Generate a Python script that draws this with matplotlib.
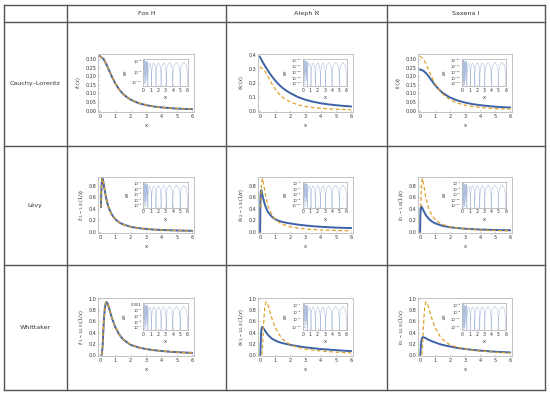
import numpy as np
import matplotlib
matplotlib.use("Agg")
import matplotlib.pyplot as plt
from matplotlib.lines import Line2D

# ---------------- data ----------------
COLS = ["Fox H", "Aleph \u2135", "Saxena I"]
ROWS = ["Cauchy\u2013Lorentz", "L\u00e9vy", "Whittaker"]

# Row 1: Cauchy-Lorentz
X1 = [0, 0.25, 0.5, 0.75, 1, 1.25, 1.5, 1.75, 2, 2.5, 3, 3.5, 4, 4.5, 5, 5.5, 6]
CAUCHY = [0.318, 0.300, 0.255, 0.204, 0.159, 0.124, 0.098, 0.079, 0.064, 0.044,
          0.032, 0.024, 0.019, 0.015, 0.012, 0.010, 0.0086]
ALEPH_C = [0.39, 0.34, 0.295, 0.255, 0.22, 0.19, 0.165, 0.145, 0.128, 0.10,
           0.08, 0.066, 0.055, 0.047, 0.041, 0.036, 0.032]
SAXENA_C = [0.24, 0.232, 0.21, 0.18, 0.15, 0.125, 0.105, 0.09, 0.077, 0.059,
            0.047, 0.038, 0.032, 0.027, 0.023, 0.02, 0.018]

# Row 2: Levy
X2 = [0.07, 0.1, 0.13, 0.167, 0.2, 0.25, 0.3, 0.4, 0.5, 0.6, 0.8, 1.0, 1.25, 1.5,
      2, 2.5, 3, 3.5, 4, 4.5, 5, 5.5, 6]
LEVY = [0.428, 0.732, 0.880, 0.925, 0.904, 0.830, 0.746, 0.597, 0.484, 0.400, 0.288,
        0.220, 0.165, 0.130, 0.088, 0.065, 0.050, 0.040, 0.033, 0.028, 0.024, 0.021, 0.018]
XB2 = [0.02, 0.04, 0.06, 0.1, 0.15, 0.2, 0.3, 0.4, 0.5, 0.6, 0.8, 1.0, 1.25, 1.5,
       2, 2.5, 3, 3.5, 4, 4.5, 5, 5.5, 6]
ALEPH_L = [0.0, 0.55, 0.69, 0.72, 0.66, 0.60, 0.50, 0.42, 0.36, 0.32, 0.26, 0.22,
           0.19, 0.17, 0.145, 0.125, 0.11, 0.097, 0.088, 0.08, 0.074, 0.069, 0.065]
SAXENA_L = [0.0, 0.3, 0.42, 0.44, 0.42, 0.39, 0.34, 0.29, 0.255, 0.225, 0.18, 0.15,
            0.125, 0.105, 0.08, 0.065, 0.054, 0.046, 0.04, 0.036, 0.032, 0.029, 0.027]

# Row 3: Whittaker
X3 = [0.12, 0.18, 0.22, 0.27, 0.32, 0.38, 0.43, 0.5, 0.6, 0.7, 0.8, 1.0, 1.25, 1.5,
      2, 2.5, 3, 3.5, 4, 4.5, 5, 5.5, 6]
WHITT = [0.0, 0.15, 0.4, 0.65, 0.83, 0.93, 0.95, 0.92, 0.84, 0.74, 0.65, 0.5, 0.37,
         0.28, 0.18, 0.135, 0.105, 0.085, 0.07, 0.058, 0.049, 0.042, 0.037]
XB3 = [0.04, 0.07, 0.1, 0.15, 0.2, 0.3, 0.4, 0.5, 0.6, 0.8, 1.0, 1.25, 1.5, 2, 2.5,
       3, 3.5, 4, 4.5, 5, 5.5, 6]
ALEPH_W = [0.0, 0.3, 0.45, 0.5, 0.49, 0.45, 0.41, 0.37, 0.34, 0.29, 0.26, 0.23, 0.21,
           0.18, 0.155, 0.135, 0.12, 0.105, 0.095, 0.085, 0.075, 0.068]
SAXENA_W = [0.0, 0.15, 0.25, 0.3, 0.32, 0.31, 0.30, 0.28, 0.27, 0.245, 0.225, 0.2,
            0.18, 0.15, 0.125, 0.105, 0.09, 0.077, 0.066, 0.057, 0.05, 0.044]

# Inset error curves: shared x grid and shape (fraction of the inset's log range)
EPS_X = [0, 0.04, 0.08, 0.12, 0.16, 0.2, 0.24, 0.28, 0.32, 0.36, 0.4, 0.44, 0.48, 0.52, 0.56,
         0.6, 0.62, 0.7, 0.85, 1.0, 1.08, 1.1, 1.12, 1.2, 1.4, 1.6, 1.68, 1.7,
         1.72, 1.82, 2.05, 2.28, 2.38, 2.4, 2.42, 2.52, 2.75, 2.98, 3.08, 3.1,
         3.12, 3.25, 3.55, 3.85, 3.98, 4.0, 4.02, 4.15, 4.5, 4.85, 4.98, 5.0,
         5.02, 5.15, 5.5, 5.85, 5.98, 6.0]
EPS_SHAPE = [0.95, 0.3, 0.9, 0.1, 0.97, 0.4, 0.85, 0.05, 0.92, 0.5, 0.88, 0.2, 0.9, 0.35, 0.93,
             -0.2, 0.45, 0.75, 0.85, 0.75, 0.45, -0.2, 0.45, 0.75, 0.86, 0.75, 0.45, -0.2,
             0.45, 0.75, 0.87, 0.75, 0.45, -0.2, 0.45, 0.75, 0.87, 0.75, 0.45, -0.2,
             0.45, 0.76, 0.88, 0.76, 0.45, -0.2, 0.45, 0.76, 0.88, 0.76, 0.45, -0.2,
             0.45, 0.76, 0.88, 0.76, 0.45, -0.2]
# inset decade tick exponents (top to bottom)
EPS_TICKS = [
    [[-8, -9, -10], [-10, -11, -12, -13, -14], [-10, -11, -12, -13, -14]],
    [[-4, -5, -6, -7, -8], [-6, -7, -8, -9, -10], [-7, -8, -9, -10, -11]],
    [[-3, -4, -5, -6, -7], [-7, -8, -9, -10], [-8, -9, -10, -11]],
]

YLABELS = [
    [r"$f_C(x)$", r"$\aleph_C(x)$", r"$I_C(x)$"],
    [r"$f_{(2,-1,0)}(1/x)$", r"$\aleph_{(2,-1,0)}(1/x)$", r"$I_{(2,-1,0)}(1/x)$"],
    [r"$f_{(3,-1/2,0)}(1/x)$", r"$\aleph_{(3,-1/2,0)}(1/x)$", r"$I_{(3,-1/2,0)}(1/x)$"],
]

SUP = str.maketrans("-0123456789", "\u207b\u2070\u00b9\u00b2\u00b3\u2074\u2075\u2076\u2077\u2078\u2079")

# ---------------- layout ----------------
W, H = 550, 397
fig = plt.figure(figsize=(W / 100, H / 100), dpi=100)
fig.patch.set_facecolor("white")

BLUE = "#3d62a6"
ORANGE = "#e0a02a"
EPSC = "#aebfdf"
FRAME = "#b8b8b8"
TXT = "#333333"

col_x = [3.5, 67, 226, 387, 545]
row_y = [5, 22, 146, 265, 390]
for xv in col_x:
    fig.add_artist(Line2D([xv / W, xv / W], [1 - row_y[0] / H, 1 - row_y[-1] / H],
                          color="#555555", lw=1.0, transform=fig.transFigure))
for yv in row_y:
    fig.add_artist(Line2D([col_x[0] / W, col_x[-1] / W], [1 - yv / H, 1 - yv / H],
                          color="#555555", lw=1.0, transform=fig.transFigure))

for j, name in enumerate(COLS):
    fig.text((col_x[j + 1] + col_x[j + 2]) / 2 / W, 1 - 13.5 / H, name,
             ha="center", va="center", fontsize=4.6, color=TXT)
for i, name in enumerate(ROWS):
    fig.text(35 / W, 1 - (row_y[i + 1] + row_y[i + 2]) / 2 / H, name,
             ha="center", va="center", fontsize=4.6, color=TXT)

ax_left = [98, 258, 418]
ax_w = [96, 95, 94]
ax_top = [54, 177, 298]
ax_h = [58, 56, 58]

panels = [
    [(X1, CAUCHY, X1, CAUCHY), (X1, ALEPH_C, X1, CAUCHY), (X1, SAXENA_C, X1, CAUCHY)],
    [(X2, LEVY, X2, LEVY), (XB2, ALEPH_L, X2, LEVY), (XB2, SAXENA_L, X2, LEVY)],
    [(X3, WHITT, X3, WHITT), (XB3, ALEPH_W, X3, WHITT), (XB3, SAXENA_W, X3, WHITT)],
]
yt = [
    [[0.0, 0.05, 0.10, 0.15, 0.20, 0.25, 0.30], [0.0, 0.1, 0.2, 0.3, 0.4],
     [0.0, 0.05, 0.10, 0.15, 0.20, 0.25, 0.30]],
    [[0.0, 0.2, 0.4, 0.6, 0.8]] * 3,
    [[0.0, 0.2, 0.4, 0.6, 0.8, 1.0]] * 3,
]
ylims = [[(-0.008, 0.33), (-0.008, 0.41), (-0.008, 0.33)],
         [(-0.02, 0.95)] * 3,
         [(-0.02, 1.02)] * 3]


def style(ax, fs):
    for s in ax.spines.values():
        s.set_color(FRAME)
        s.set_linewidth(0.6)
    ax.tick_params(direction="in", length=1.5, width=0.4, colors=FRAME,
                   labelsize=fs, labelcolor=TXT, pad=1.2)


for i in range(3):
    for j in range(3):
        bx, by, ox, oy = panels[i][j]
        ax = fig.add_axes([ax_left[j] / W, 1 - (ax_top[i] + ax_h[i]) / H,
                           ax_w[j] / W, ax_h[i] / H])
        ax.plot(bx, by, color=BLUE, lw=1.4, solid_capstyle="round", zorder=2)
        ax.plot(ox, oy, color=ORANGE, lw=0.9, ls=(0, (3, 2)), zorder=3)
        ax.set_xlim(-0.12, 6.12)
        ax.set_ylim(*ylims[i][j])
        ax.set_xticks(range(7))
        ax.set_yticks(yt[i][j])
        if i == 0 and j != 1:
            ax.set_yticklabels([f"{v:.2f}" for v in yt[i][j]])
        else:
            ax.set_yticklabels([f"{v:.1f}" for v in yt[i][j]])
        style(ax, 3.5)
        ax.set_xlabel("x", fontsize=3.8, color=TXT, labelpad=3)
        ax.set_ylabel(YLABELS[i][j], fontsize=3.6, color=TXT, labelpad=1.5)

        # inset
        ins = ax.inset_axes([0.47, 0.45, 0.47, 0.46])
        ticks = EPS_TICKS[i][j]
        hi = ticks[0] + 0.25
        lo = ticks[-1] - 0.35
        ey = [10 ** (lo + s * (hi - lo)) for s in EPS_SHAPE]
        ins.plot(EPS_X, ey, color=EPSC, lw=0.4)
        ins.set_yscale("log")
        ins.set_ylim(10 ** lo, 10 ** hi)
        ins.set_xlim(-0.05, 6.1)
        ins.set_xticks(range(7))
        ins.set_yticks([10.0 ** t for t in ticks])
        labs = []
        for t in ticks:
            labs.append("0.001" if t == -3 else "10" + str(t).translate(SUP))
        ins.set_yticklabels(labs)
        ins.minorticks_off()
        ins.set_facecolor("white")
        style(ins, 2.7)
        ins.tick_params(axis="x", labelsize=3.3)
        ins.set_xlabel("x", fontsize=3.6, color=TXT, labelpad=2)
        ins.set_ylabel(r"$\epsilon_R$", fontsize=3.8, color=TXT, labelpad=1)

fig.savefig("out.png", dpi=100, facecolor="white")
